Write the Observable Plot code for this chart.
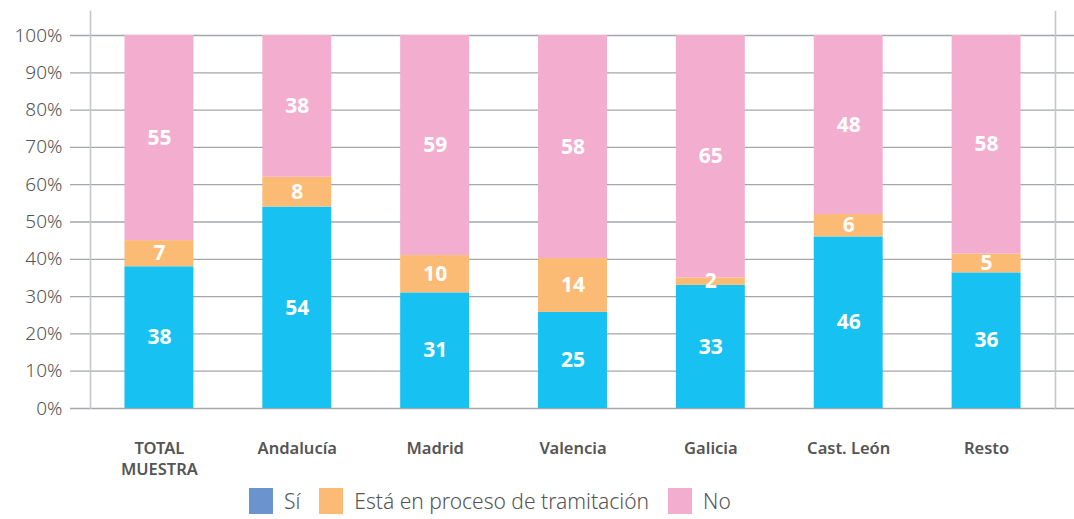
<!DOCTYPE html>
<html>
<head>
<meta charset="utf-8">
<script src="https://cdn.jsdelivr.net/npm/d3@7"></script>
<script src="https://cdn.jsdelivr.net/npm/@observablehq/plot@0.6"></script>
<style>
  html, body { margin: 0; padding: 0; background: #fff; }
  body { width: 1074px; height: 519px; overflow: hidden; font-family: "Noto Sans", sans-serif; }
  #legend { display: flex; align-items: center; margin-left: 249px; height: 34px; font-size: 21px; color: #555; font-weight: 300; }
  #legend .item { display: flex; align-items: center; margin-right: 19px; }
  #legend .sw { width: 24px; height: 26px; margin-right: 11px; }
</style>
</head>
<body>
<div id="chart"></div>
<div id="legend"></div>
<script>
const categories = ["TOTAL\nMUESTRA", "Andalucía", "Madrid", "Valencia", "Galicia", "Cast. León", "Resto"];
const series = ["Sí", "Está en proceso de tramitación", "No"];
const si = [38, 54, 31, 25, 33, 46, 36];
const proceso = [7, 8, 10, 14, 2, 6, 5];
const no = [55, 38, 59, 58, 65, 48, 58];
const yTicks = [0, 0.1, 0.2, 0.3, 0.4, 0.5, 0.6, 0.7, 0.8, 0.9, 1];

const barColors = ["#17c2f3", "#fbbb74", "#f3aecf"];
const legendColors = ["#6b93cd", "#fbbb74", "#f3aecf"];

const seriesValues = [si, proceso, no];
const data = [];
categories.forEach((c, i) => {
  series.forEach((s, j) => data.push({cat: c, serie: s, value: seriesValues[j][i]}));
});

const H = 484;
const chart = Plot.plot({
  width: 1074,
  height: H,
  marginLeft: 90,
  marginRight: 19,
  marginTop: 35,
  marginBottom: H - 408,
  style: {fontFamily: "Noto Sans, sans-serif", background: "#fff"},
  x: {domain: categories, paddingInner: 0.5, paddingOuter: 0.25, round: false, label: null},
  y: {domain: [0, 1], label: null},
  color: {domain: series, range: barColors},
  marks: [
    Plot.ruleY(yTicks, {stroke: "#a3a7ab", strokeWidth: 1.3, insetLeft: -20, insetRight: -19}),
    Plot.frame({anchor: "left", stroke: "#c3c7cb", strokeWidth: 1.6, insetTop: -24}),
    Plot.frame({anchor: "right", stroke: "#c3c7cb", strokeWidth: 1.6, insetTop: -24}),
    Plot.barY(data, Plot.stackY({x: "cat", y: "value", z: "serie", fill: "serie", offset: "normalize"})),
    Plot.text(data, Plot.stackY({x: "cat", y: "value", z: "serie", text: d => String(d.value), offset: "normalize",
      fill: "white", fontWeight: "bold", fontSize: 21})),
    Plot.axisY(yTicks, {tickSize: 0, tickPadding: 28, tickFormat: d => Math.round(d * 100) + "%", fontSize: 19, fill: "#555", fontWeight: 300}),
    Plot.axisX({tickSize: 0, tickPadding: 30, fontSize: 16.5, fontWeight: 600, fill: "#555", lineHeight: 1.3})
  ]
});
document.getElementById("chart").appendChild(chart);

const legend = document.getElementById("legend");
series.forEach((s, j) => {
  const item = document.createElement("div");
  item.className = "item";
  const sw = document.createElement("div");
  sw.className = "sw";
  sw.style.background = legendColors[j];
  const t = document.createElement("span");
  t.textContent = s;
  item.appendChild(sw);
  item.appendChild(t);
  legend.appendChild(item);
});
</script>
</body>
</html>
